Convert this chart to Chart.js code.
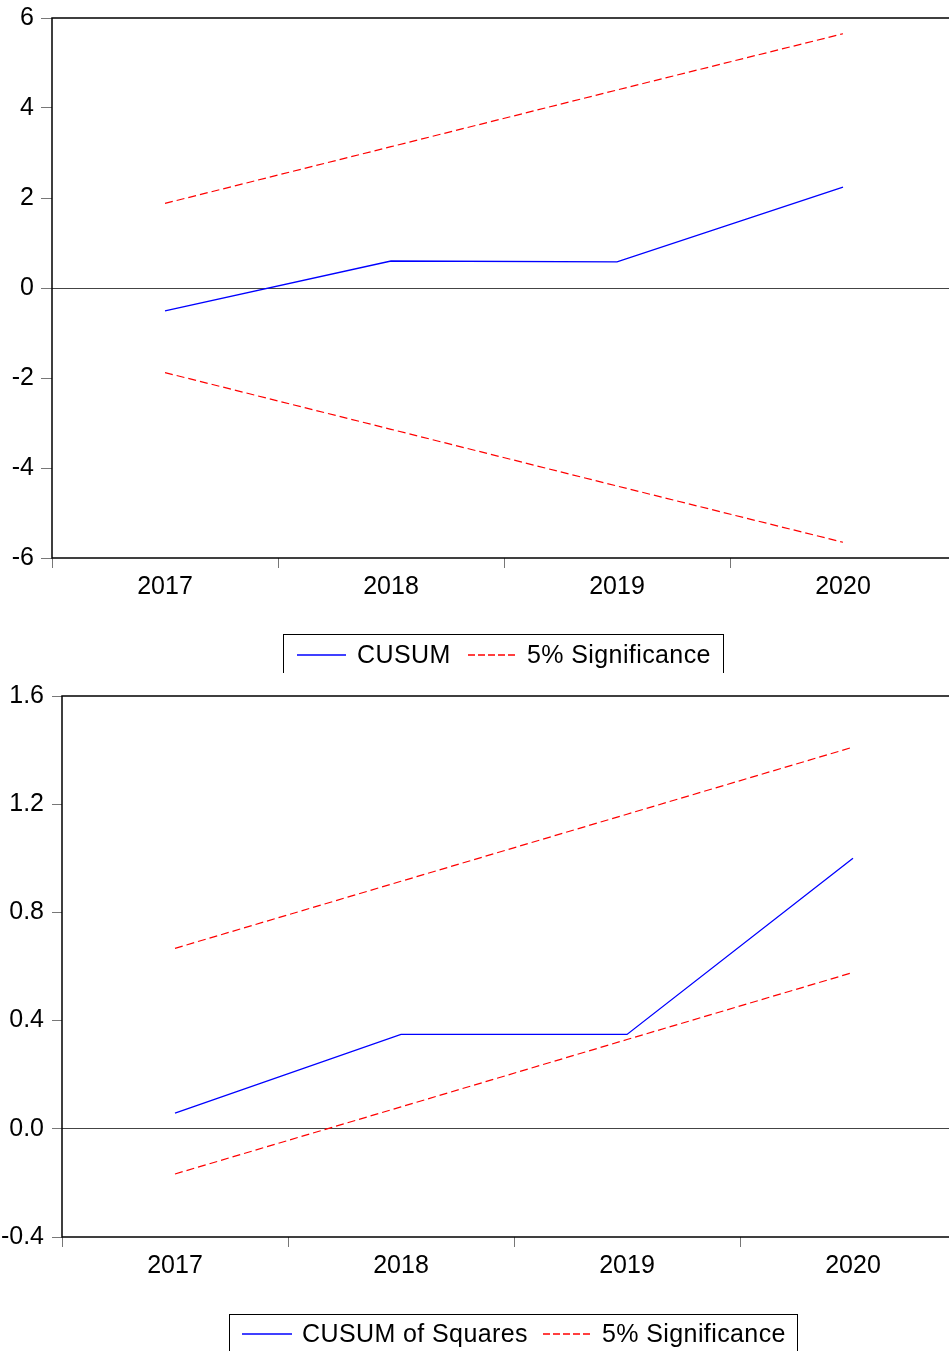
<!DOCTYPE html>
<html>
<head>
<meta charset="utf-8">
<script src="https://cdn.jsdelivr.net/npm/chart.js@4.4.1/dist/chart.umd.min.js"></script>
<style>
  html, body { margin:0; padding:0; background:#fff; overflow:hidden; width:949px; height:1351px; }
  canvas { position:absolute; left:0; }
  .box { position:absolute; border:1px solid #000; border-bottom:none; box-sizing:border-box; background:#fff; }
  .txt { position:absolute; font-family:"Liberation Sans", Arial, sans-serif; font-size:25px; color:#000; line-height:30px; white-space:nowrap; letter-spacing:0.4px; }
  svg.ln { position:absolute; overflow:visible; }
</style>
</head>
<body>
<canvas id="c1" width="960" height="624" style="top:-4px"></canvas>
<div class="box" style="left:283px;top:634px;width:441px;height:41px;"></div>
<canvas id="c2" width="970" height="627" style="top:673px"></canvas>
<div class="box" style="left:229px;top:1314px;width:569px;height:60px;"></div>
<div id="leg" style="position:absolute;left:0;top:0;width:949px;height:1351px;"></div>
<script>
// ---- data ----
const years = ["2017", "2018", "2019", "2020"];
const cusum = [-0.51, 0.60, 0.58, 2.24];
const cusumUpper = [1.88, 3.14, 4.40, 5.65];
const cusumLower = [-1.88, -3.14, -4.40, -5.65];
const cusumSq = [0.058, 0.349, 0.349, 1.0];
const cusumSqUpper = [0.667, 0.915, 1.163, 1.411];
const cusumSqLower = [-0.167, 0.081, 0.330, 0.578];
const yTicks1 = [-6, -4, -2, 0, 2, 4, 6];
const yTicks2 = [-0.4, 0.0, 0.4, 0.8, 1.2, 1.6];
const legend1 = ["CUSUM", "5% Significance"];
const legend2 = ["CUSUM of Squares", "5% Significance"];

const FONT = {family: '"Liberation Sans", Arial, sans-serif', size: 25};

const framePlugin = {
  id: 'frame',
  afterDraw(chart) {
    const a = chart.chartArea, ctx = chart.ctx;
    ctx.save();
    ctx.strokeStyle = '#000';
    ctx.lineWidth = 1.5;
    ctx.strokeRect(a.left, a.top, a.right - a.left, a.bottom - a.top);
    ctx.restore();
  }
};
const whiteBg = {
  id: 'whiteBg',
  beforeDraw(chart) {
    const ctx = chart.ctx;
    ctx.save(); ctx.fillStyle = '#fff'; ctx.fillRect(0, 0, chart.width, chart.height); ctx.restore();
  }
};

function makeChart(id, main, upper, lower, ticks, yWidth, padTop, padRight, xHeight, yTickLen, yPad, fmt) {
  const ds = (data, color, dash, w) => ({
    data, borderColor: color, borderWidth: w, borderDash: dash,
    pointRadius: 0, fill: false, tension: 0
  });
  return new Chart(document.getElementById(id), {
    type: 'line',
    data: {
      labels: years,
      datasets: [
        ds(main, '#0000ff', [], 1.3),
        ds(upper, '#ff0000', [8, 4], 1.2),
        ds(lower, '#ff0000', [8, 4], 1.2)
      ]
    },
    options: {
      responsive: false,
      animation: false,
      devicePixelRatio: 1,
      layout: { autoPadding: false, padding: { top: padTop, right: padRight, left: 0, bottom: 0 } },
      plugins: { legend: { display: false }, tooltip: { enabled: false } },
      scales: {
        x: {
          type: 'category',
          offset: true,
          grid: { offset: true, drawOnChartArea: false, drawTicks: true, tickLength: 10, tickColor: '#777', tickWidth: 1 },
          border: { display: false },
          ticks: { font: FONT, color: '#000', padding: 4, maxRotation: 0 },
          afterFit(s) { s.height = xHeight; }
        },
        y: {
          min: ticks[0], max: ticks[ticks.length - 1],
          afterBuildTicks(s) { s.ticks = ticks.map(v => ({ value: v })); },
          grid: {
            color: c => (c.tick && Math.abs(c.tick.value) < 1e-9) ? '#444' : 'rgba(0,0,0,0)',
            lineWidth: 1,
            tickColor: '#777', tickLength: yTickLen, drawTicks: true
          },
          border: { display: false },
          ticks: { font: FONT, color: '#000', padding: yPad, callback: v => fmt(v) },
          afterFit(s) { s.width = yWidth; }
        }
      }
    },
    plugins: [whiteBg, framePlugin]
  });
}

makeChart('c1', cusum, cusumUpper, cusumLower, yTicks1, 52, 12, 4, 62, 11, 7, v => String(Math.round(v)));
makeChart('c2', cusumSq, cusumSqUpper, cusumSqLower, yTicks2, 62, 12, 4, 63, 10, 8, v => Number(v).toFixed(1));

// ---- legends (HTML text + SVG samples) ----
const leg = document.getElementById('leg');
const NS = 'http://www.w3.org/2000/svg';
function addLine(x, y, w, color, dashed) {
  const s = document.createElementNS(NS, 'svg');
  s.setAttribute('class', 'ln');
  s.setAttribute('width', w); s.setAttribute('height', 4);
  s.style.left = x + 'px'; s.style.top = (y - 2) + 'px';
  const l = document.createElementNS(NS, 'line');
  l.setAttribute('x1', 0); l.setAttribute('x2', w);
  l.setAttribute('y1', 2); l.setAttribute('y2', 2);
  l.setAttribute('stroke', color); l.setAttribute('stroke-width', 1.6);
  if (dashed) l.setAttribute('stroke-dasharray', '7 3');
  s.appendChild(l);
  leg.appendChild(s);
}
function addText(x, yc, t) {
  const d = document.createElement('div');
  d.className = 'txt';
  d.style.left = x + 'px'; d.style.top = (yc - 15) + 'px';
  d.textContent = t;
  leg.appendChild(d);
}
addLine(297, 655, 49, '#0000ff', false);
addText(357, 654, legend1[0]);
addLine(468, 655, 49, '#ff0000', true);
addText(527, 654, legend1[1]);

addLine(242, 1334, 50, '#0000ff', false);
addText(302, 1333, legend2[0]);
addLine(543, 1334, 50, '#ff0000', true);
addText(602, 1333, legend2[1]);
</script>
</body>
</html>
